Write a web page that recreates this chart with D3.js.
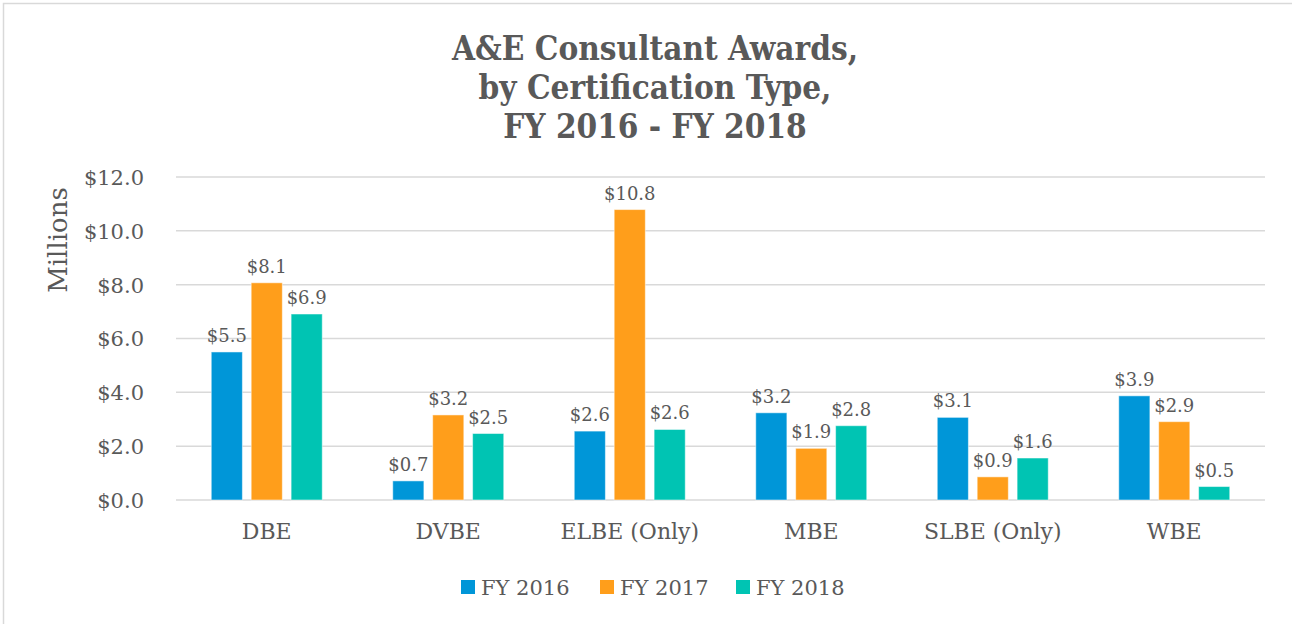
<!DOCTYPE html>
<html>
<head>
<meta charset="utf-8" />
<title>A&amp;E Consultant Awards</title>
<style>
  body { margin: 0; background: #fff; }
  text { fill: #595959; font-family: "DejaVu Serif", serif; }
  .title { font-family: "DejaVu Serif Condensed", "DejaVu Serif", serif; font-stretch: condensed; font-weight: bold; font-size: 33px; }
  .grid line { stroke: #d9d9d9; stroke-width: 1.5px; }
</style>
</head>
<body>
<div id="chart"></div>
<script src="https://cdn.jsdelivr.net/npm/d3@7"></script>
<script>
// data
var categories = ["DBE", "DVBE", "ELBE (Only)", "MBE", "SLBE (Only)", "WBE"];
var seriesNames = ["FY 2016", "FY 2017", "FY 2018"];
var fy2016 = [5.50, 0.71, 2.56, 3.24, 3.07, 3.87];
var fy2017 = [8.07, 3.16, 10.79, 1.92, 0.86, 2.91];
var fy2018 = [6.91, 2.47, 2.62, 2.76, 1.56, 0.50];
var yTicks = [0, 2, 4, 6, 8, 10, 12];
var colors = ["#0096d8", "#ff9e1b", "#00c4b3"];
var titleLines = ["A&E Consultant Awards,", "by Certification Type,", "FY 2016 - FY 2018"];

var series = [fy2016, fy2017, fy2018];

var W = 1292, H = 624;
var margin = {top: 177, right: 27, bottom: 124, left: 176};
var width = W - margin.left - margin.right,
    height = H - margin.top - margin.bottom;

var svg = d3.select("#chart").append("svg")
    .attr("width", W)
    .attr("height", H);

// outer frame
svg.append("rect")
    .attr("x", 3.5).attr("y", 3.5)
    .attr("width", W + 20).attr("height", H + 20)
    .attr("fill", "none")
    .attr("stroke", "#d9d9d9")
    .attr("stroke-width", 1.5);

// title
svg.append("g").selectAll("text")
    .data(titleLines)
    .join("text")
    .attr("class", "title")
    .attr("x", 655)
    .attr("y", (d, i) => 60 + i * 39)
    .attr("text-anchor", "middle")
    .text(d => d);

var x = d3.scaleBand().domain(categories).range([0, width]);
var x1 = d3.scaleBand().domain(seriesNames).range([0, 111]).paddingInner(0.22);
var y = d3.scaleLinear().domain([0, 12]).range([height, 0]);

var g = svg.append("g").attr("transform", "translate(" + margin.left + "," + margin.top + ")");

// gridlines
g.append("g").attr("class", "grid")
    .selectAll("line")
    .data(yTicks)
    .join("line")
    .attr("x1", 0).attr("x2", width)
    .attr("y1", d => y(d)).attr("y2", d => y(d));

// y axis labels
var yAxis = d3.axisLeft(y).tickValues(yTicks).tickFormat(d => "$" + d3.format(".1f")(d)).tickSize(0).tickPadding(32);
g.append("g").call(yAxis)
    .call(s => s.select(".domain").remove())
    .selectAll("text")
    .attr("font-size", "21px")
    .attr("font-family", null)
    .attr("fill", null)
    .attr("dy", "0.35em");

// x axis labels
var xAxis = d3.axisBottom(x).tickSize(0).tickPadding(23);
g.append("g").attr("transform", "translate(0," + height + ")").call(xAxis)
    .call(s => s.select(".domain").remove())
    .selectAll("text")
    .attr("font-size", "22px")
    .attr("font-family", null)
    .attr("fill", null)
    .attr("dy", "0.71em");

// y title
svg.append("text")
    .attr("transform", "translate(67,240) rotate(-90)")
    .attr("text-anchor", "middle")
    .attr("font-size", "26px")
    .text("Millions");

// bars
var groups = g.append("g").selectAll("g")
    .data(categories)
    .join("g")
    .attr("transform", d => "translate(" + (x(d) + (x.bandwidth() - 111) / 2) + ",0)");

groups.selectAll("rect")
    .data((d, i) => series.map((s, k) => ({name: seriesNames[k], value: s[i], k: k})))
    .join("rect")
    .attr("x", d => x1(d.name))
    .attr("y", d => y(d.value))
    .attr("width", x1.bandwidth())
    .attr("height", d => y(0) - y(d.value))
    .attr("fill", d => colors[d.k])
    .attr("stroke", "#fff")
    .attr("stroke-opacity", 0.5)
    .attr("stroke-width", 1);

groups.selectAll("text.lbl")
    .data((d, i) => series.map((s, k) => ({name: seriesNames[k], value: s[i], k: k})))
    .join("text")
    .attr("class", "lbl")
    .attr("x", d => x1(d.name) + x1.bandwidth() / 2)
    .attr("y", d => y(d.value) - 10)
    .attr("text-anchor", "middle")
    .attr("font-size", "18px")
    .text(d => "$" + d3.format(".1f")(d.value));

// legend
var legendX = [461, 600, 736];
var legend = svg.append("g").selectAll("g")
    .data(seriesNames)
    .join("g")
    .attr("transform", (d, i) => "translate(" + legendX[i] + ",580)");
legend.append("rect")
    .attr("width", 14).attr("height", 14)
    .attr("fill", (d, i) => colors[i]);
legend.append("text")
    .attr("x", 20).attr("y", 15)
    .attr("font-size", "21px")
    .text(d => d);
</script>
</body>
</html>
